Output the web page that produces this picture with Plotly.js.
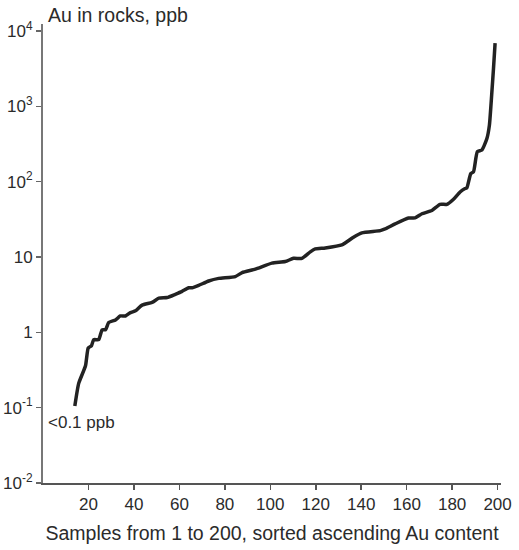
<!DOCTYPE html>
<html>
<head>
<meta charset="utf-8">
<script src="https://cdn.plot.ly/plotly-3.0.1.min.js"></script>
<style>
  html, body { margin: 0; padding: 0; background: #fff; }
  #plot { width: 519px; height: 550px; }
</style>
</head>
<body>
<div id="plot"></div>
<script>
// sample number (sorted ascending) and Au content, ppb
const samples = [14, 15.7, 18.7, 19.9, 21.3, 22.3, 24.5, 26, 27.5, 28.9,
    31.9, 34, 36.3, 38.5, 40.7, 43.6, 48, 51, 54.6, 58.2,
    61.2, 64.1, 65.6, 68.5, 72.9, 77.3, 84.6, 87.6, 93.4, 100.7,
    106.6, 110.2, 113.9, 117.6, 119.8, 124.2, 131.5, 136.6, 140.3, 148.4,
    150.5, 154.9, 160.8, 163.7, 166.7, 171.1, 174.7, 177.7, 180.5, 183.5,
    185.7, 186.5, 188.2, 189.4, 191.1, 193.1, 195.3, 196.4, 197.4, 198.2, 198.9];
const auPpb = [0.105, 0.21, 0.36, 0.62, 0.66, 0.8, 0.8, 1.08, 1.08, 1.35,
    1.46, 1.65, 1.65, 1.83, 1.93, 2.3, 2.5, 2.84, 2.9, 3.2,
    3.5, 3.9, 3.9, 4.2, 4.8, 5.2, 5.5, 6.2, 6.9, 8.3,
    8.7, 9.6, 9.6, 11.7, 12.8, 13.2, 14.5, 18.3, 20.9, 22.4,
    23.6, 27.5, 32.9, 33, 37.5, 41.5, 50, 50, 58, 73,
    81, 83, 128, 135, 250, 263, 374, 563, 1420, 3200, 6900];

const xTicks = [20, 40, 60, 80, 100, 120, 140, 160, 180, 200];
const yTicks = [0.01, 0.1, 1, 10, 100, 1000, 10000];
const yTickText = ['10<sup>-2</sup>', '10<sup>-1</sup>', '1', '10',
    '10<sup>2</sup>', '10<sup>3</sup>', '10<sup>4</sup>'];

const textColor = '#2b2b2b';
const font = 'Liberation Sans, Arial, sans-serif';

const trace = {
    x: samples,
    y: auPpb,
    mode: 'lines',
    type: 'scatter',
    line: { color: '#222', width: 3.5, shape: 'spline', smoothing: 0.5 },
    hoverinfo: 'x+y'
};

const layout = {
    width: 519,
    height: 550,
    margin: { l: 43, r: 18, t: 24, b: 67 },
    paper_bgcolor: '#fff',
    plot_bgcolor: '#fff',
    showlegend: false,
    font: { family: font, size: 17, color: textColor },
    xaxis: {
        range: [0, 201.5],
        tickvals: xTicks,
        ticks: 'outside',
        ticklen: 5,
        tickwidth: 1.5,
        tickcolor: '#555',
        showline: true,
        linecolor: '#555',
        linewidth: 1.5,
        showgrid: false,
        zeroline: false,
        tickfont: { size: 17 },
        title: { text: 'Samples from 1 to 200, sorted ascending Au content', font: { size: 19.5 }, standoff: 13 }
    },
    yaxis: {
        type: 'log',
        range: [-2, 4.093],
        tickvals: yTicks,
        ticktext: yTickText,
        ticks: 'outside',
        ticklen: 5,
        tickwidth: 1.5,
        tickcolor: '#666',
        showline: true,
        linecolor: '#777',
        linewidth: 2,
        showgrid: false,
        zeroline: false,
        tickfont: { size: 17 }
    },
    annotations: [
        {
            text: 'Au in rocks, ppb',
            xref: 'paper', yref: 'paper',
            x: 0, y: 1, xanchor: 'left', yanchor: 'bottom',
            xshift: 3, yshift: -4,
            showarrow: false,
            font: { size: 19.5 }
        },
        {
            text: '<0.1 ppb',
            x: 1.5, y: -1, xanchor: 'left', yanchor: 'top',
            yshift: -3,
            showarrow: false,
            font: { size: 17 }
        }
    ]
};

Plotly.newPlot('plot', [trace], layout, { displayModeBar: false, staticPlot: true });
</script>
</body>
</html>
